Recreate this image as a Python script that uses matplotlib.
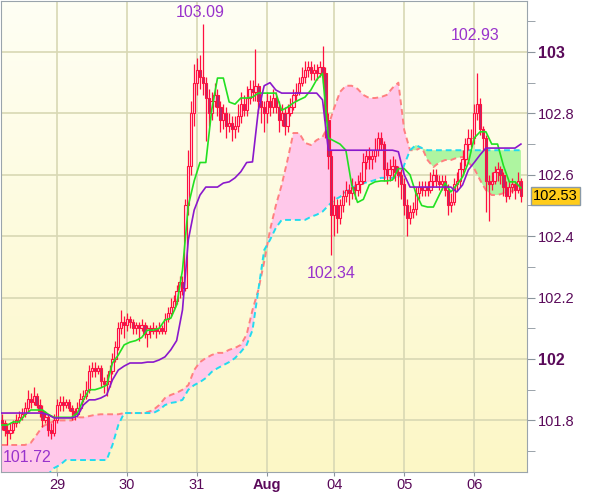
import numpy as np
import matplotlib.pyplot as plt
from matplotlib.colors import LinearSegmentedColormap
from matplotlib.transforms import blended_transform_factory

# hourly candles (open = previous close)
close = [
    # 28th
    101.79, 101.77, 101.76, 101.77, 101.79, 101.80, 101.81, 101.82, 101.84, 101.87, 101.86, 101.88,
    101.85, 101.83, 101.80, 101.81, 101.77, 101.76, 101.80,
    # 29th
    101.85, 101.86, 101.85, 101.86, 101.84, 101.83, 101.82, 101.84, 101.87, 101.88, 101.90, 101.96,
    101.97, 101.96, 101.97, 101.93, 101.92, 101.93, 101.96, 102.00, 102.04, 102.10, 102.12, 102.11,
    # 30th
    102.13, 102.12, 102.10, 102.11, 102.10, 102.11, 102.08, 102.10, 102.09, 102.10, 102.09, 102.10,
    102.09, 102.13, 102.15, 102.17, 102.19, 102.22, 102.25, 102.23, 102.50, 102.63, 102.80, 102.90,
    # 31st
    102.94, 102.92, 102.90, 102.85, 102.80, 102.84, 102.86, 102.82, 102.78, 102.80, 102.76, 102.77,
    102.75, 102.76, 102.79, 102.83, 102.81, 102.85, 102.88, 102.87, 102.89, 102.84, 102.82, 102.80,
    # Aug 1
    102.84, 102.82, 102.85, 102.82, 102.78, 102.80, 102.76, 102.80, 102.82, 102.86, 102.87, 102.90,
    102.92, 102.94, 102.95, 102.93, 102.94, 102.93, 102.95, 102.93, 102.78, 102.66, 102.47,
    # Aug 4
    102.50, 102.46, 102.50, 102.53, 102.55, 102.54, 102.56, 102.55, 102.57, 102.58, 102.64, 102.66,
    102.65, 102.66, 102.68, 102.72, 102.70, 102.62, 102.60, 102.62, 102.63, 102.61, 102.60, 102.57,
    # Aug 5
    102.50, 102.46, 102.48, 102.49, 102.54, 102.56, 102.55, 102.56, 102.55, 102.58, 102.60, 102.58,
    102.57, 102.58, 102.55, 102.50, 102.51, 102.57, 102.58, 102.62, 102.65, 102.70, 102.72, 102.72,
    # Aug 6
    102.80, 102.83, 102.75, 102.72, 102.58, 102.57, 102.58, 102.61, 102.62, 102.60, 102.56, 102.53,
    102.56, 102.57, 102.55, 102.58, 102.53,
]
high = [
    101.82, 101.80, 101.79, 101.79, 101.80, 101.82, 101.83, 101.84, 101.86, 101.90, 101.89, 101.91,
    101.89, 101.87, 101.85, 101.83, 101.82, 101.79, 101.82,
    101.87, 101.88, 101.88, 101.87, 101.87, 101.85, 101.84, 101.86, 101.89, 101.90, 101.93, 101.98,
    101.99, 101.99, 101.98, 101.98, 101.94, 101.95, 101.98, 102.02, 102.06, 102.12, 102.16, 102.14,
    102.15, 102.14, 102.13, 102.12, 102.12, 102.13, 102.12, 102.11, 102.11, 102.12, 102.11, 102.12,
    102.11, 102.15, 102.17, 102.20, 102.21, 102.24, 102.27, 102.27, 102.52, 102.68, 102.84, 102.96,
    102.98, 102.99, 103.09, 102.92, 102.88, 102.87, 102.90, 102.88, 102.84, 102.83, 102.82, 102.80,
    102.79, 102.79, 102.83, 102.87, 102.86, 102.89, 102.91, 102.91, 103.01, 102.90, 102.86, 102.84,
    102.87, 102.86, 102.88, 102.87, 102.84, 102.83, 102.82, 102.83, 102.85, 102.88, 102.90, 102.92,
    102.95, 102.97, 102.97, 102.97, 102.96, 102.96, 102.97, 103.02, 102.95, 102.80, 102.68,
    102.53, 102.52, 102.52, 102.55, 102.58, 102.57, 102.59, 102.58, 102.60, 102.61, 102.67, 102.68,
    102.69, 102.68, 102.72, 102.74, 102.74, 102.71, 102.64, 102.65, 102.66, 102.65, 102.63, 102.62,
    102.59, 102.52, 102.50, 102.51, 102.56, 102.58, 102.58, 102.58, 102.58, 102.61, 102.62, 102.62,
    102.60, 102.60, 102.60, 102.57, 102.54, 102.59, 102.61, 102.64, 102.68, 102.72, 102.75, 102.75,
    102.83, 102.93, 102.85, 102.76, 102.73, 102.60, 102.61, 102.63, 102.64, 102.63, 102.61, 102.58,
    102.58, 102.59, 102.58, 102.61, 102.59,
]
low = [
    101.77, 101.75, 101.72, 101.74, 101.76, 101.78, 101.79, 101.80, 101.81, 101.83, 101.84, 101.85,
    101.84, 101.81, 101.78, 101.79, 101.75, 101.74, 101.75,
    101.79, 101.83, 101.83, 101.84, 101.83, 101.80, 101.80, 101.81, 101.83, 101.86, 101.87, 101.89,
    101.94, 101.94, 101.95, 101.91, 101.89, 101.88, 101.91, 101.95, 101.99, 102.03, 102.08, 102.07,
    102.09, 102.10, 102.08, 102.08, 102.06, 102.09, 102.07, 102.04, 102.07, 102.08, 102.07, 102.08,
    102.08, 102.08, 102.12, 102.14, 102.16, 102.18, 102.20, 102.21, 102.22, 102.47, 102.60, 102.76,
    102.86, 102.88, 102.86, 102.71, 102.76, 102.78, 102.82, 102.79, 102.74, 102.75, 102.72, 102.74,
    102.71, 102.72, 102.74, 102.77, 102.79, 102.79, 102.83, 102.84, 102.84, 102.80, 102.77, 102.74,
    102.77, 102.79, 102.80, 102.80, 102.74, 102.76, 102.73, 102.74, 102.79, 102.81, 102.84, 102.86,
    102.89, 102.90, 102.92, 102.91, 102.91, 102.91, 102.92, 102.90, 102.72, 102.62, 102.34,
    102.40, 102.41, 102.44, 102.48, 102.51, 102.50, 102.52, 102.52, 102.53, 102.54, 102.57, 102.62,
    102.62, 102.62, 102.64, 102.66, 102.68, 102.58, 102.57, 102.58, 102.59, 102.58, 102.56, 102.52,
    102.47, 102.40, 102.44, 102.46, 102.47, 102.52, 102.53, 102.53, 102.53, 102.54, 102.56, 102.56,
    102.55, 102.55, 102.53, 102.47, 102.48, 102.50, 102.55, 102.56, 102.60, 102.63, 102.68, 102.69,
    102.70, 102.78, 102.73, 102.68, 102.48, 102.45, 102.55, 102.57, 102.58, 102.57, 102.53, 102.51,
    102.52, 102.54, 102.52, 102.54, 102.51,
]
first_open = 101.80

# Ichimoku lines, sampled every 2 hours
tenkan = [
    101.785, 101.785, 101.795, 101.795, 101.818, 101.834, 101.834, 101.834, 101.82, 101.81,
    101.81, 101.81, 101.81, 101.824, 101.867, 101.90, 101.90, 101.906, 101.915, 101.987,
    102.013, 102.046, 102.055, 102.06, 102.07, 102.094, 102.094, 102.10, 102.127, 102.133,
    102.176, 102.29, 102.50, 102.58, 102.64, 102.64, 102.81, 102.915, 102.915, 102.837,
    102.83, 102.85, 102.85, 102.853, 102.866, 102.866, 102.866, 102.866, 102.81, 102.82,
    102.834, 102.844, 102.853, 102.876, 102.91, 102.93, 102.72, 102.71, 102.70, 102.68,
    102.567, 102.51, 102.52, 102.567, 102.577, 102.58, 102.58, 102.583, 102.62, 102.62,
    102.60, 102.54, 102.50, 102.495, 102.495, 102.534, 102.573, 102.544, 102.567, 102.593,
    102.64, 102.72, 102.74, 102.74, 102.70, 102.70, 102.63, 102.577, 102.577, 102.557,
]
kijun = [
    101.824, 101.824, 101.824, 101.824, 101.824, 101.824, 101.824, 101.824, 101.818, 101.808,
    101.808, 101.808, 101.808, 101.814, 101.85, 101.867, 101.867, 101.873, 101.883, 101.932,
    101.964, 101.977, 101.987, 101.987, 101.987, 101.99, 101.99, 101.997, 102.007, 102.03,
    102.06, 102.16, 102.388, 102.485, 102.534, 102.56, 102.56, 102.56, 102.573, 102.577,
    102.59, 102.61, 102.64, 102.642, 102.81, 102.89, 102.90, 102.876, 102.866, 102.866,
    102.866, 102.866, 102.866, 102.866, 102.866, 102.844, 102.68, 102.68, 102.68, 102.68,
    102.68, 102.68, 102.68, 102.68, 102.68, 102.68, 102.68, 102.68, 102.675, 102.60,
    102.56, 102.56, 102.56, 102.56, 102.56, 102.56, 102.56, 102.56, 102.544, 102.567,
    102.616, 102.64, 102.665, 102.687, 102.687, 102.687, 102.687, 102.687, 102.687, 102.70,
]
span_a = [
    101.72, 101.72, 101.72, 101.72, 101.72, 101.727, 101.753, 101.78, 101.79, 101.798,
    101.80, 101.80, 101.80, 101.81, 101.81, 101.814, 101.818, 101.82, 101.82, 101.82,
    101.82, 101.824, 101.824, 101.824, 101.824, 101.827, 101.834, 101.85, 101.873, 101.883,
    101.89, 101.90, 101.915, 101.964, 101.99, 102.003, 102.013, 102.02, 102.02, 102.03,
    102.036, 102.046, 102.08, 102.16, 102.225, 102.316, 102.42, 102.50, 102.567, 102.648,
    102.736, 102.736, 102.704, 102.697, 102.713, 102.723, 102.76, 102.818, 102.87, 102.89,
    102.89, 102.88, 102.86, 102.85, 102.85, 102.853, 102.86, 102.883, 102.90, 102.746,
    102.68, 102.68, 102.69, 102.648, 102.625, 102.64, 102.648, 102.648, 102.655, 102.658,
    102.64, 102.62, 102.583, 102.55, 102.534, 102.534, 102.54, 102.544, 102.55, 102.56,
]
span_b = [
    101.60, 101.60, 101.60, 101.60, 101.60, 101.60, 101.60, 101.60, 101.625, 101.645,
    101.655, 101.671, 101.671, 101.671, 101.671, 101.671, 101.671, 101.671, 101.671, 101.72,
    101.785, 101.824, 101.824, 101.824, 101.824, 101.824, 101.824, 101.834, 101.85, 101.857,
    101.86, 101.867, 101.90, 101.915, 101.925, 101.938, 101.958, 101.97, 101.98, 101.99,
    102.003, 102.023, 102.046, 102.094, 102.225, 102.355, 102.388, 102.427, 102.453, 102.453,
    102.453, 102.453, 102.453, 102.463, 102.47, 102.48, 102.50, 102.518, 102.528, 102.544,
    102.557, 102.567, 102.573, 102.577, 102.583, 102.59, 102.59, 102.59, 102.59, 102.632,
    102.68, 102.697, 102.687, 102.68, 102.68, 102.68, 102.68, 102.68, 102.68, 102.68,
    102.68, 102.68, 102.68, 102.68, 102.68, 102.68, 102.68, 102.68, 102.68, 102.68,
]

day_pos = [19, 43, 67, 91, 114, 138, 162]
day_labels = ['29', '30', '31', 'Aug', '04', '05', '06']

close = np.array(close)
high = np.array(high)
low = np.array(low)
opn = np.concatenate([[first_open], close[:-1]])
xs = np.arange(len(close))
lx = np.arange(0, len(close), 2)
span_a = np.array(span_a)
span_b = np.array(span_b)

ink = '#5a0a5a'
red = '#ff1040'

fig = plt.figure(figsize=(6, 4.97), dpi=100, facecolor='white')
ax = fig.add_axes([0.0017, 0.0503, 0.8767, 0.9477])
x0, x1 = -0.2, 180.1
y0, y1 = 101.632, 103.166
ax.set_xlim(x0, x1)
ax.set_ylim(y0, y1)

# pale yellow gradient background
cmap = LinearSegmentedColormap.from_list('bg', ['#fcf7c6', '#fffff4'])
ax.imshow(np.linspace(0, 1, 100).reshape(-1, 1), extent=[x0, x1, y0, y1],
          origin='lower', aspect='auto', cmap=cmap, zorder=0)

# grid
for p in day_pos:
    ax.axvline(p, color='#d8d8b4', lw=1.2, zorder=1)
for v in np.arange(101.8, 103.01, 0.2):
    ax.axhline(v, color='#d8d8b4', lw=1.2, zorder=1)

# cloud
ax.fill_between(lx, span_a, span_b, where=span_a >= span_b, interpolate=True,
                color='#ffc8ea', lw=0, zorder=2)
ax.fill_between(lx, span_a, span_b, where=span_a < span_b, interpolate=True,
                color='#aef5a0', lw=0, zorder=2)
ax.plot(lx, span_a, color='#ff8080', lw=1.4, ls=(0, (3, 2)), zorder=3)
ax.plot(lx, span_b, color='#22dbee', lw=1.4, ls=(0, (3, 2)), zorder=3)

# candles
up = close >= opn
ax.vlines(xs, low, high, color=red, lw=0.9, zorder=4)
ax.bar(xs, np.abs(close - opn), bottom=np.minimum(opn, close), width=0.8,
       color=np.where(up, '#ffd6e2', '#b02e6c'), edgecolor=red, linewidth=0.8, zorder=5)

# conversion / base lines
ax.plot(lx, tenkan, color='#22e022', lw=1.2, zorder=6)
ax.plot(lx, kijun, color='#8a18cc', lw=1.2, zorder=6)

# high / low labels
lab = dict(color='#9933cc', fontsize=11.5, family='Liberation Sans', zorder=8)
i = int(np.argmax(high))
ax.text(i - 1, high[i] + 0.015, f'{high[i]:.2f}', ha='center', va='bottom', **lab)
i = int(np.argmin(low))
ax.text(0.5, low[i] - 0.04, f'{low[i]:.2f}', ha='left', va='center', **lab)
i = 100 + int(np.argmin(low[100:130]))
ax.text(i, low[i] - 0.06, f'{low[i]:.2f}', ha='center', va='center', **lab)
i = 150 + int(np.argmax(high[150:]))
ax.text(i - 0.7, high[i] + 0.125, f'{high[i]:.2f}', ha='center', va='center', **lab)

# axes styling
for s in ax.spines.values():
    s.set_color('#9aa4ac')
ax.yaxis.tick_right()
major = np.round(np.arange(101.8, 103.01, 0.2), 1)
ax.set_yticks(major)
ax.set_yticks(np.round(np.arange(101.7, 103.11, 0.1), 1), minor=True)
ax.set_yticklabels([f'{v:g}' for v in major])
ax.tick_params(axis='y', which='both', direction='out', length=6, color='#8a949c',
               labelcolor=ink, labelsize=10.5, pad=2)
for t in ax.get_yticklabels():
    t.set_family('Liberation Sans')
    if float(t.get_text()) % 1 == 0:
        t.set_fontweight('bold')
        t.set_fontsize(11.5)

ax.set_xticks(day_pos)
ax.set_xticklabels(day_labels)
ax.tick_params(axis='x', direction='out', length=3, color='#8a949c', labelcolor=ink,
               labelsize=10.5, pad=1)
for t in ax.get_xticklabels():
    t.set_family('Liberation Sans')
    if t.get_text() == 'Aug':
        t.set_fontweight('bold')

# last price box
tr = blended_transform_factory(ax.transAxes, ax.transData)
ax.text(1.012, close[-1], f'{close[-1]:.2f}', transform=tr, ha='left', va='center',
        fontsize=10.5, family='Liberation Sans', color='black', zorder=10, clip_on=False,
        bbox=dict(boxstyle='square,pad=0.15', fc='#ffcc1a', ec='#8a9aa8', lw=1))

fig.savefig('out.png', dpi=100, facecolor='white')
